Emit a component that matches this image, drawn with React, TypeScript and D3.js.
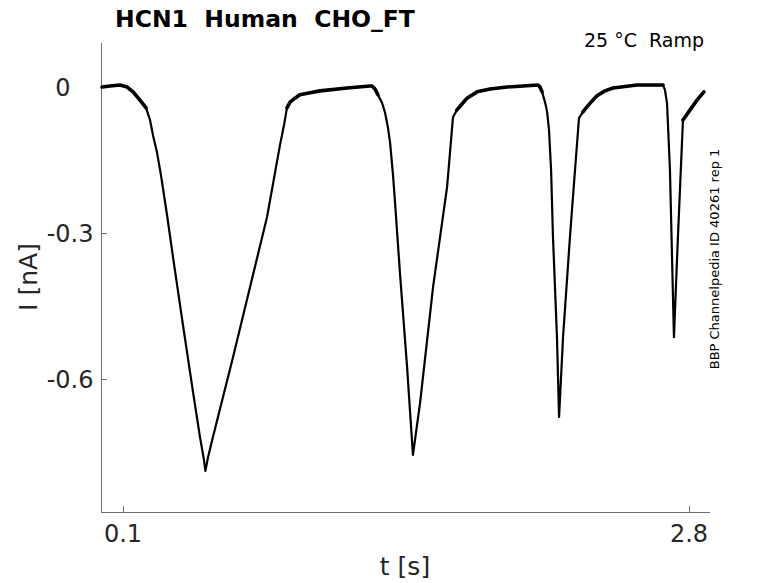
import React from "react";
import * as d3 from "d3";

// trace: time [s] and current [nA]
const timeS = [
  0.0, 0.038, 0.086, 0.119, 0.148, 0.181, 0.21, 0.229, 0.243, 0.262, 0.281, 0.31, 0.339, 0.386,
  0.434, 0.467, 0.486, 0.493, 0.505, 0.529, 0.625, 0.706, 0.787, 0.849, 0.868, 0.882, 0.897, 0.92,
  0.944, 0.992, 1.04, 1.169, 1.278, 1.288, 1.302, 1.316, 1.336, 1.35, 1.364, 1.374, 1.388, 1.398,
  1.421, 1.455, 1.483, 1.517, 1.579, 1.646, 1.674, 1.693, 1.717, 1.741, 1.789, 1.851, 1.932, 2.008,
  2.08, 2.089, 2.099, 2.113, 2.123, 2.132, 2.142, 2.151, 2.17, 2.18, 2.199, 2.232, 2.256, 2.275,
  2.294, 2.313, 2.337, 2.361, 2.399, 2.437, 2.552, 2.676, 2.685, 2.695, 2.709, 2.728, 2.747, 2.771,
  2.805, 2.838, 2.871,
];
const currentNA = [
  0.0, 0.002, 0.004, 0.0, -0.01, -0.027, -0.043, -0.068, -0.099, -0.134, -0.181, -0.263, -0.351,
  -0.489, -0.627, -0.719, -0.766, -0.789, -0.762, -0.719, -0.555, -0.411, -0.267, -0.119, -0.078,
  -0.043, -0.031, -0.023, -0.016, -0.012, -0.008, -0.002, 0.002, 0.002, -0.004, -0.016, -0.033,
  -0.053, -0.084, -0.115, -0.181, -0.24, -0.382, -0.575, -0.756, -0.649, -0.411, -0.205, -0.062,
  -0.047, -0.035, -0.023, -0.01, -0.004, 0.0, 0.002, 0.004, 0.0, -0.01, -0.031, -0.051, -0.088,
  -0.171, -0.308, -0.514, -0.678, -0.514, -0.308, -0.171, -0.064, -0.051, -0.041, -0.029, -0.018,
  -0.008, -0.002, 0.004, 0.004, -0.006, -0.033, -0.171, -0.514, -0.308, -0.068, -0.047, -0.027,
  -0.01,
];

// stretches where the recording noise makes the trace look thicker
const noisyStart = [0.0, 0.88, 1.69, 2.29, 2.77];
const noisyEnd = [0.21, 1.33, 2.1, 2.68, 2.88];

const xTicks = [0.1, 2.8];
const xTickLabels = ["0.1", "2.8"];
const yTicks = [0, -0.3, -0.6];
const yTickLabels = ["0", "-0.3", "-0.6"];

const titleText = "HCN1  Human  CHO_FT";
const conditionText = "25 °C  Ramp";
const sideText = "BBP Channelpedia ID 40261 rep 1";

const W = 778;
const H = 583;
const font = "'DejaVu Sans', sans-serif";

export default function App() {
  const x = d3.scaleLinear().domain([-0.005, 2.9]).range([101, 710]);
  const y = d3.scaleLinear().domain([-0.8733, 0.0904]).range([512, 43]);

  const pts: [number, number][] = timeS.map((t, i) => [t, currentNA[i]]);
  const line = d3
    .line<[number, number]>()
    .x((d) => x(d[0]))
    .y((d) => y(d[1]));

  const noisy = noisyStart.map((s, i) => pts.filter((p) => p[0] >= s && p[0] <= noisyEnd[i]));

  const axisColor = "#6e6e6e";
  const textColor = "#262626";

  return (
    <svg
      width={W}
      height={H}
      style={{ position: "absolute", left: 0, top: 0, background: "#fff" }}
      fontFamily={font}
    >
      <rect width={W} height={H} fill="#fff" />

      {/* axes */}
      <line x1={101.5} x2={101.5} y1={43} y2={512} stroke={axisColor} />
      <line x1={101} x2={710} y1={512.5} y2={512.5} stroke={axisColor} />

      {yTicks.map((v, i) => (
        <g key={"y" + i}>
          <line x1={101} x2={107} y1={Math.round(y(v)) + 0.5} y2={Math.round(y(v)) + 0.5} stroke={axisColor} />
          <text
            x={v === 0 ? 70.5 : 93.5}
            y={y(v)}
            dy="0.36em"
            textAnchor="end"
            fontSize={24}
            fill={textColor}
          >
            {yTickLabels[i]}
          </text>
        </g>
      ))}

      {xTicks.map((v, i) => (
        <g key={"x" + i}>
          <line x1={Math.round(x(v)) + 0.5} x2={Math.round(x(v)) + 0.5} y1={512} y2={506} stroke={axisColor} />
          <text x={x(v)} y={541.5} textAnchor="middle" fontSize={24} fill={textColor}>
            {xTickLabels[i]}
          </text>
        </g>
      ))}

      {/* trace */}
      <path
        d={line(pts) ?? ""}
        fill="none"
        stroke="#000"
        strokeWidth={2.2}
        strokeLinejoin="round"
      />
      {noisy.map((seg, i) => (
        <path
          key={"n" + i}
          d={line(seg) ?? ""}
          fill="none"
          stroke="#000"
          strokeWidth={3.6}
          strokeLinejoin="round"
          strokeLinecap="round"
        />
      ))}

      {/* labels */}
      <text x={405} y={575} textAnchor="middle" fontSize={25} fill={textColor}>
        t [s]
      </text>
      <text
        transform="translate(37,277) rotate(-90)"
        textAnchor="middle"
        fontSize={25}
        fill={textColor}
      >
        I [nA]
      </text>
      <text x={115} y={26.5} fontSize={23.5} fontWeight="bold" fill="#000" style={{ whiteSpace: "pre" }}>
        {titleText}
      </text>
      <text x={704} y={47} textAnchor="end" fontSize={19} fill="#000" style={{ whiteSpace: "pre" }}>
        {conditionText}
      </text>
      <text
        transform="translate(719,259) rotate(-90)"
        textAnchor="middle"
        fontSize={13}
        fill="#000"
      >
        {sideText}
      </text>
    </svg>
  );
}
